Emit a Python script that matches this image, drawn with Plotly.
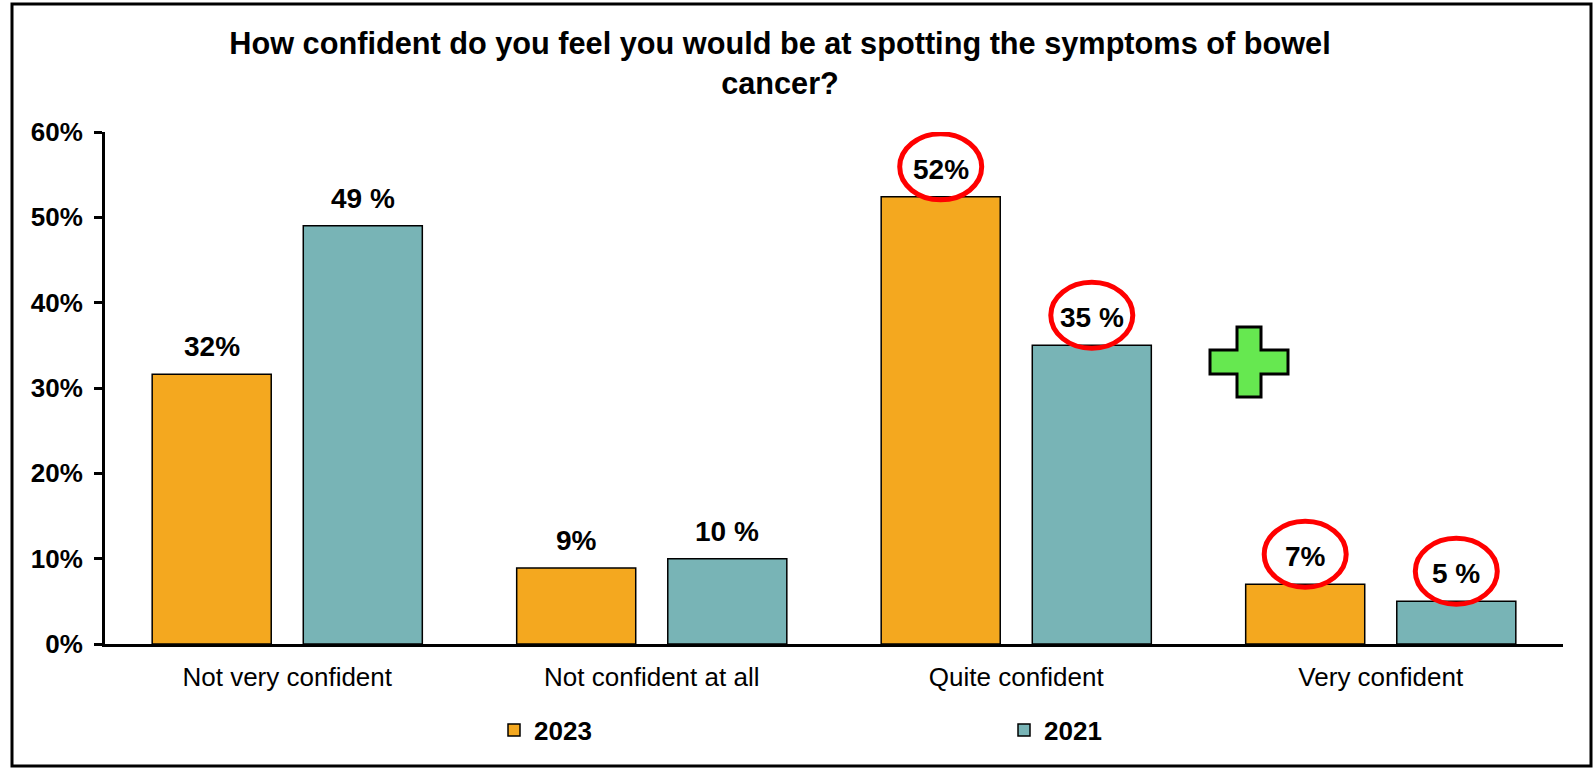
import plotly.graph_objects as go

categories = ["Not very confident", "Not confident at all", "Quite confident", "Very confident"]
values_2023 = [0.316, 0.089, 0.524, 0.070]
values_2021 = [0.490, 0.100, 0.350, 0.050]
labels_2023 = ["32%", "9%", "52%", "7%"]
labels_2021 = ["49 %", "10 %", "35 %", "5 %"]
circled_2023 = [False, False, True, True]
circled_2021 = [False, False, True, True]
yticks = [0, 0.1, 0.2, 0.3, 0.4, 0.5, 0.6]
yticklabels = ["0%", "10%", "20%", "30%", "40%", "50%", "60%"]

ORANGE = "#F4A81F"
TEAL = "#78B4B6"
FONT = "Arial, Liberation Sans, sans-serif"

W, H = 1593, 769
ML, MR, MT, MB = 105, 30, 132, 125
PW = W - ML - MR
PH = H - MT - MB

def px_to_paper_x(px):
    return (px - ML) / PW

def px_to_paper_y(py):
    return (H - MB - py) / PH

BARGAP = 0.171
OFF = (1 - BARGAP) / 4  # bar-center offset within a category

fig = go.Figure()
fig.add_trace(go.Bar(name="2023", x=categories, y=values_2023,
                     marker=dict(color=ORANGE, line=dict(color="black", width=1.5))))
fig.add_trace(go.Bar(name="2021", x=categories, y=values_2021,
                     marker=dict(color=TEAL, line=dict(color="black", width=1.5))))

annotations = []
shapes = []
for i in range(len(categories)):
    for vals, labs, circ, sign in ((values_2023, labels_2023, circled_2023, -1),
                                   (values_2021, labels_2021, circled_2021, 1)):
        xc = i + sign * OFF
        annotations.append(dict(x=xc, y=vals[i], xref="x", yref="y", text=f"<b>{labs[i]}</b>",
                                showarrow=False, yanchor="bottom", yshift=10,
                                font=dict(family=FONT, size=28, color="black")))
        if circ[i]:
            shapes.append(dict(type="circle", xref="x", yref="y",
                               xsizemode="pixel", ysizemode="pixel",
                               xanchor=xc, yanchor=vals[i],
                               x0=-41, x1=41, y0=-3, y1=63,
                               line=dict(color="#FF0000", width=5)))

# green plus sign
ah, av, t = 39, 35, 12
plus_path = (f"M{-t},{av} L{t},{av} L{t},{t} L{ah},{t} L{ah},{-t} L{t},{-t} L{t},{-av} "
             f"L{-t},{-av} L{-t},{-t} L{-ah},{-t} L{-ah},{t} L{-t},{t} Z")
shapes.append(dict(type="path", xref="paper", yref="paper",
                   xsizemode="pixel", ysizemode="pixel",
                   xanchor=px_to_paper_x(1249), yanchor=px_to_paper_y(362),
                   path=plus_path, fillcolor="#66E850",
                   line=dict(color="black", width=3)))

# outer frame
shapes.append(dict(type="rect", xref="paper", yref="paper",
                   x0=px_to_paper_x(12), x1=px_to_paper_x(1591),
                   y0=px_to_paper_y(766), y1=px_to_paper_y(4),
                   line=dict(color="black", width=3), fillcolor="rgba(0,0,0,0)", layer="below"))

fig.update_layout(
    width=W, height=H,
    margin=dict(l=ML, r=MR, t=MT, b=MB),
    paper_bgcolor="white", plot_bgcolor="white",
    barmode="group", bargap=BARGAP, bargroupgap=0.212,
    title=dict(text="<b>How confident do you feel you would be at spotting the symptoms of bowel<br>cancer?</b>",
               x=780 / W, xanchor="center", xref="container",
               y=1 - 54 / H, yanchor="middle", yref="container",
               font=dict(family=FONT, size=30.7, color="black")),
    font=dict(family=FONT, color="black"),
    showlegend=True,
    legend=dict(orientation="h", x=px_to_paper_x(494), xanchor="left",
                y=px_to_paper_y(730), yanchor="middle",
                entrywidth=465, entrywidthmode="pixels",
                font=dict(family=FONT, size=26, color="black", weight="bold"),
                itemclick=False, itemdoubleclick=False,
                traceorder="normal"),
    xaxis=dict(showline=True, linecolor="black", linewidth=3, ticks="",
               tickfont=dict(family=FONT, size=26, color="black"),
               ticklabelstandoff=8,
               showgrid=False, zeroline=False),
    yaxis=dict(range=[0, 0.6], tickvals=yticks, ticktext=[f"<b>{t}</b>" for t in yticklabels],
               showline=True, linecolor="black", linewidth=3,
               ticks="outside", ticklen=8, tickwidth=3, tickcolor="black",
               tickfont=dict(family=FONT, size=26, color="black"),
               ticklabelstandoff=6,
               showgrid=False, zeroline=False),
    annotations=annotations,
    shapes=shapes,
)

fig.write_html("out.html", config={"displayModeBar": False},
               post_script="document.body.style.margin='0';")
